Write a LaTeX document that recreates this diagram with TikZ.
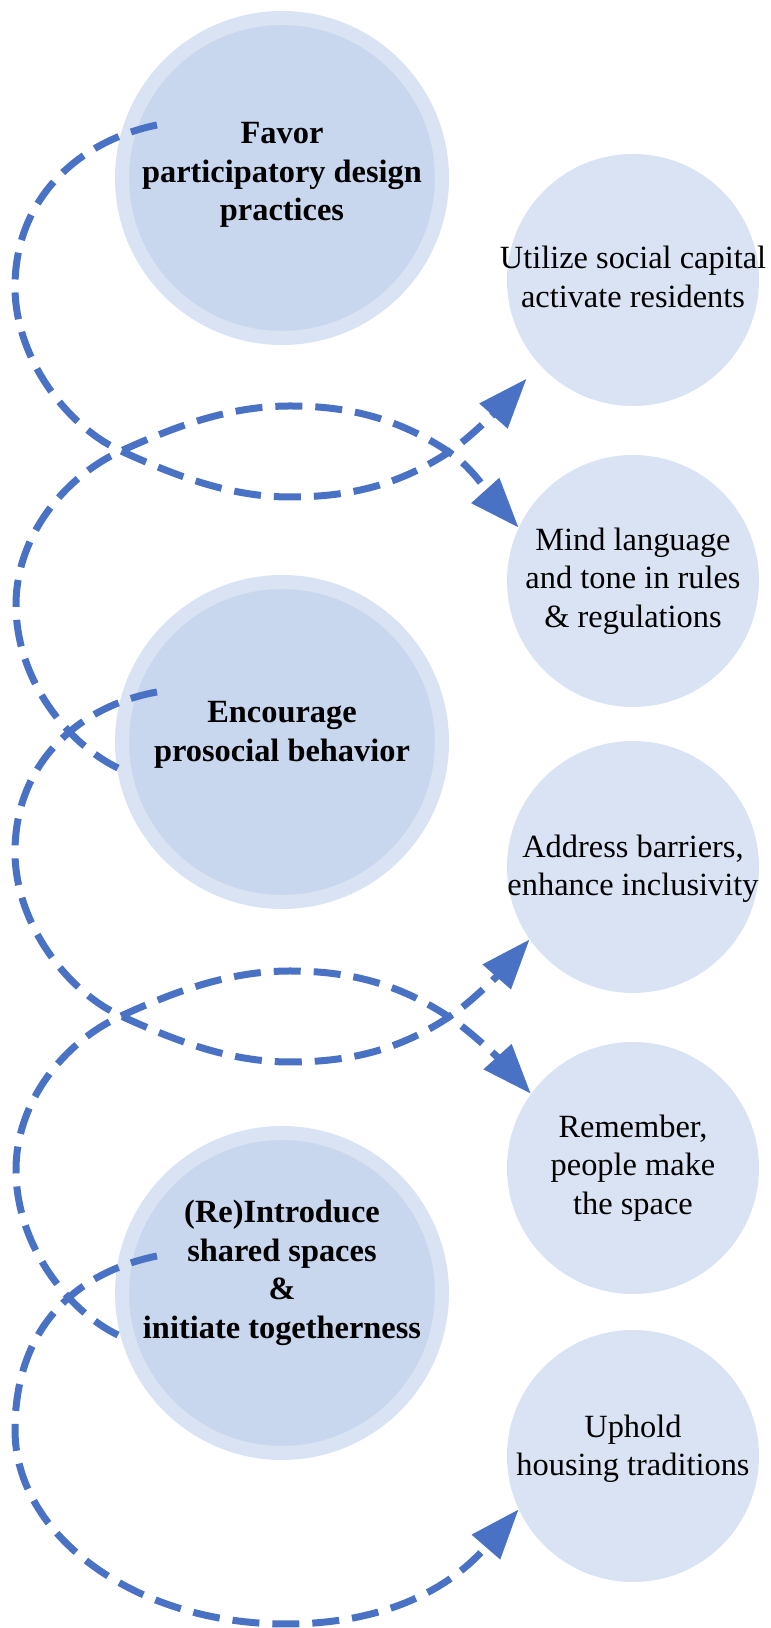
\documentclass[tikz,border=0pt]{standalone}
\usepackage{fontspec}
\setmainfont{Liberation Serif}
\usepackage{tikz}
\usetikzlibrary{arrows.meta}
\definecolor{ringblue}{HTML}{DAE3F3}
\definecolor{coreblue}{HTML}{C9D7EE}
\definecolor{linkblue}{HTML}{4A72C4}

\begin{document}
\begin{tikzpicture}[>={Triangle[length=50bp,width=36bp]},line join=bevel,
  bigdisc/.style={circle,fill=coreblue,draw=ringblue,line width=14bp,minimum size=320bp,inner sep=0pt},
  smalldisc/.style={circle,fill=ringblue,minimum size=252bp,inner sep=0pt},
  bigtext/.style={align=center,font=\fontsize{32.4bp}{38.5bp}\selectfont\bfseries},
  smalltext/.style={align=center,font=\fontsize{32.4bp}{38.5bp}\selectfont},
  link/.style={draw=linkblue,line width=7bp,dash pattern=on 27bp off 13bp,->},
  ]
\useasboundingbox (0bp,0bp) rectangle (771bp,1628bp);
%%
\node (node_favor) at (282bp,1450bp) [bigdisc] {};
  \node (node_encourage) at (282bp,886bp) [bigdisc] {};
  \node (node_reintro) at (282bp,335bp) [bigdisc] {};
  \node (node_utilize) at (633bp,1348bp) [smalldisc] {};
  \node (node_mind) at (633bp,1047bp) [smalldisc] {};
  \node (node_address) at (633bp,761bp) [smalldisc] {};
  \node (node_remember) at (633bp,460bp) [smalldisc] {};
  \node (node_uphold) at (633bp,172bp) [smalldisc] {};
  \node (node_favor_text) at (282bp,1453bp) [bigtext] {Favor\\participatory design\\practices};
  \node (node_encourage_text) at (282bp,893bp) [bigtext] {Encourage\\prosocial behavior};
  \node (node_reintro_text) at (282bp,355bp) [bigtext] {(Re)Introduce\\shared spaces\\\&\\initiate togetherness};
  \node (node_utilize_text) at (633bp,1351bp) [smalltext] {Utilize social capital\\activate residents};
  \node (node_mind_text) at (633bp,1047bp) [smalltext] {Mind language\\and tone in rules\\\& regulations};
  \node (node_address_text) at (633bp,759bp) [smalltext] {Address barriers,\\enhance inclusivity};
  \node (node_remember_text) at (633bp,460bp) [smalltext] {Remember,\\people make\\the space};
  \node (node_uphold_text) at (633bp,179bp) [smalltext] {Uphold\\housing traditions};
%
  \coordinate (s_favor) at (157bp,1503bp);
  \coordinate (s_encourage) at (157bp,936bp);
  \coordinate (s_encourage_low) at (118bp,860bp);
  \coordinate (s_reintro) at (157bp,372bp);
  \coordinate (s_reintro_low) at (118bp,293bp);
  \draw [link,shorten >=19bp] (s_favor) ..controls (79bp,1487bp) and (15bp,1430bp) .. (15bp,1341bp)
    ..controls (15bp,1271bp) and (66bp,1202bp) .. (121bp,1177bp)
    ..controls (176bp,1152bp) and (230bp,1131bp) .. (290bp,1131bp)
    ..controls (350bp,1131bp) and (399bp,1143bp) .. (449bp,1176bp)
    ..controls (472.5bp,1191.4bp) and (513bp,1234bp)  .. (node_utilize.222);
  \draw [link] (s_encourage_low) ..controls (68bp,884bp) and (16bp,948bp) .. (16bp,1023bp)
    ..controls (16bp,1093bp) and (66bp,1152bp) .. (121bp,1177bp)
    ..controls (176bp,1202bp) and (230bp,1222bp) .. (290bp,1222bp)
    ..controls (350bp,1222bp) and (399bp,1209bp) .. (449bp,1176bp)
    ..controls (472.5bp,1160.6bp) and (492bp,1130bp)  .. (node_mind.155);
  \draw [link] (s_encourage) ..controls (79bp,922bp) and (15bp,865bp) .. (15bp,776bp)
    ..controls (15bp,706bp) and (66bp,637bp) .. (121bp,612bp)
    ..controls (176bp,587bp) and (230bp,566bp) .. (290bp,566bp)
    ..controls (350bp,566bp) and (399bp,578bp) .. (449bp,611bp)
    ..controls (472.5bp,626.4bp) and (503.4bp,658.7bp)  .. (node_address.215);
  \draw [link] (s_reintro_low) ..controls (68bp,317bp) and (16bp,383bp) .. (16bp,458bp)
    ..controls (16bp,528bp) and (66bp,587bp) .. (121bp,612bp)
    ..controls (176bp,637bp) and (230bp,657bp) .. (290bp,657bp)
    ..controls (350bp,657bp) and (399bp,644bp) .. (449bp,611bp)
    ..controls (472.5bp,595.6bp) and (504.3bp,563.8bp)  .. (node_remember.144);
  \draw [link] (s_reintro) ..controls (69bp,354bp) and (15bp,294bp) .. (15bp,198bp)
    ..controls (15bp,92bp) and (136bp,4bp) .. (286bp,4bp)
    ..controls (380bp,4bp) and (447bp,36bp)  .. (node_uphold.205);
%
\end{tikzpicture}
\end{document}
